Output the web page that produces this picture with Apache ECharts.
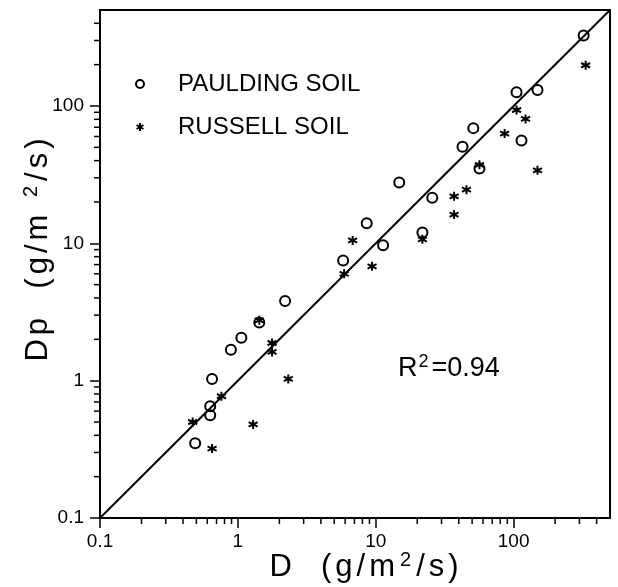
<!DOCTYPE html>
<html>
<head>
<meta charset="utf-8">
<script src="https://cdn.jsdelivr.net/npm/echarts@6/dist/echarts.min.js"></script>
<style>
    html, body { margin: 0; padding: 0; background: #fff; }
    #chart { width: 618px; height: 587px; }
</style>
</head>
<body>
<div id="chart"></div>
<script>
    // axis range (log-log, both axes same)
    var axisMin = 0.1;
    var axisMax = 500;
    var minorTicks = [0.2, 0.3, 0.4, 0.5, 0.6, 0.7, 0.8, 0.9,
                      2, 3, 4, 5, 6, 7, 8, 9,
                      20, 30, 40, 50, 60, 70, 80, 90,
                      200, 300, 400];

    // PAULDING SOIL (open circles)
    var pauldingD  = [0.49, 0.63, 0.63, 0.65, 0.89, 1.06, 1.43, 2.2,
                      5.8, 8.6, 11.3, 14.8, 21.8, 25.7, 42.6, 51, 56.5, 105, 114, 149, 322];
    var pauldingDp = [0.35, 0.56, 0.65, 1.03, 1.68, 2.05, 2.65, 3.8,
                      7.5, 14, 9.7, 27.7, 12, 21.5, 50.5, 69, 35, 126, 56, 131, 326];

    // RUSSELL SOIL (asterisks)
    var russellD  = [0.47, 0.65, 0.76, 1.29, 1.43, 1.77, 1.77, 2.32,
                     5.9, 6.8, 9.4, 21.8, 37, 37, 45.5, 56.5, 86, 105, 122, 149, 333];
    var russellDp = [0.5, 0.32, 0.77, 0.48, 2.75, 1.88, 1.62, 1.03,
                     6.0, 10.5, 6.8, 10.7, 16.2, 22, 24.6, 37.3, 63, 93.5, 80.5, 34, 198];

    // 1:1 line
    var fitD  = [0.1, 500];
    var fitDp = [0.1, 500];

    var fontName = '"Liberation Sans", Arial, sans-serif';
    var asterisk = 'path://M5,0L5,10M0.67,2.5L9.33,7.5M0.67,7.5L9.33,2.5';

    function pairs(xs, ys) {
        return xs.map(function (x, i) { return [x, ys[i]]; });
    }

    // wide letter spacing like the original plotter font
    function spaced(s) {
        return s.split('').map(function (c) { return '{t|' + c + '}'; }).join('');
    }

    // minor log ticks, drawn outside the axes
    function xMinorTick(params, api) {
        var p = api.coord([api.value(0), api.value(1)]);
        return {
            type: 'line',
            shape: { x1: p[0], y1: p[1], x2: p[0], y2: p[1] + 6 },
            style: { stroke: '#000', lineWidth: 1.5 }
        };
    }
    function yMinorTick(params, api) {
        var p = api.coord([api.value(0), api.value(1)]);
        return {
            type: 'line',
            shape: { x1: p[0] - 6, y1: p[1], x2: p[0], y2: p[1] },
            style: { stroke: '#000', lineWidth: 1.5 }
        };
    }

    var titleRich = {
        t: { fontSize: 31, fontFamily: fontName, color: '#000', padding: [0, 2, 0, 2] },
        sup: { fontSize: 20, fontFamily: fontName, color: '#000', padding: [0, 3, 15, 3] }
    };

    var axisCommon = {
        type: 'log',
        logBase: 10,
        min: axisMin,
        max: axisMax,
        nameLocation: 'middle',
        nameMoveOverlap: false,
        splitLine: { show: false },
        axisLine: { lineStyle: { color: '#000', width: 2 } },
        axisTick: { show: true, inside: false, length: 10, lineStyle: { color: '#000', width: 1.5 } },
        minorTick: { show: false },
        axisLabel: {
            color: '#000', fontSize: 19, fontFamily: fontName,
            showMaxLabel: false, showMinLabel: true
        }
    };

    var option = {
        animation: false,
        backgroundColor: '#fff',
        grid: {
            left: 100, right: 8, top: 10, bottom: 69,
            show: true, borderColor: '#000', borderWidth: 2,
            containLabel: false, outerBoundsMode: 'none'
        },
        legend: {
            orient: 'vertical',
            left: 130,
            top: 67,
            itemGap: 19,
            itemWidth: 34,
            itemHeight: 8,
            selectedMode: false,
            textStyle: { fontSize: 24, fontFamily: fontName, color: '#000', padding: [0, 0, 0, 16] },
            data: [
                { name: 'PAULDING SOIL', icon: 'circle', itemStyle: { color: 'transparent', borderColor: '#000', borderWidth: 2 } },
                { name: 'RUSSELL SOIL', icon: asterisk, itemStyle: { color: '#000', borderColor: '#000', borderWidth: 2 } }
            ]
        },
        xAxis: Object.assign({}, axisCommon, {
            name: spaced('D  (g/m') + '{sup|2}' + spaced('/s)'),
            nameGap: 32,
            nameTextStyle: { rich: titleRich, padding: [0, 0, 0, 18] },
            axisLabel: Object.assign({}, axisCommon.axisLabel, { margin: 14 })
        }),
        yAxis: Object.assign({}, axisCommon, {
            name: spaced('Dp  (g/m ') + '{sup|2}' + spaced('/s)'),
            nameGap: 44,
            nameTextStyle: { padding: [0, 0, 0, 28], rich: titleRich },
            axisLabel: Object.assign({}, axisCommon.axisLabel, { margin: 16 })
        }),
        graphic: [
            {
                type: 'text',
                left: 398,
                top: 353,
                silent: true,
                style: {
                    text: '{a|R}{s|2}{a|=0.94}',
                    rich: {
                        a: { fontSize: 27, fontFamily: fontName, fill: '#000' },
                        s: { fontSize: 18, fontFamily: fontName, fill: '#000', padding: [0, 3, 13, 1] }
                    }
                }
            }
        ],
        series: [
            {
                name: '1:1',
                type: 'line',
                data: pairs(fitD, fitDp),
                symbol: 'none',
                silent: true,
                lineStyle: { color: '#000', width: 2 },
                z: 2
            },
            {
                name: 'PAULDING SOIL',
                type: 'scatter',
                data: pairs(pauldingD, pauldingDp),
                symbol: 'circle',
                symbolSize: 10,
                silent: true,
                itemStyle: { color: 'transparent', borderColor: '#000', borderWidth: 2, opacity: 1 },
                z: 3
            },
            {
                name: 'RUSSELL SOIL',
                type: 'scatter',
                data: pairs(russellD, russellDp),
                symbol: asterisk,
                symbolSize: 9,
                silent: true,
                itemStyle: { color: '#000', borderColor: '#000', borderWidth: 2, opacity: 1 },
                z: 4
            },
            {
                type: 'custom',
                silent: true,
                clip: false,
                renderItem: xMinorTick,
                data: minorTicks.map(function (v) { return [v, axisMin]; }),
                z: 5
            },
            {
                type: 'custom',
                silent: true,
                clip: false,
                renderItem: yMinorTick,
                data: minorTicks.map(function (v) { return [axisMin, v]; }),
                z: 5
            }
        ]
    };

    var chart = echarts.init(document.getElementById('chart'));
    chart.setOption(option);
</script>
</body>
</html>
